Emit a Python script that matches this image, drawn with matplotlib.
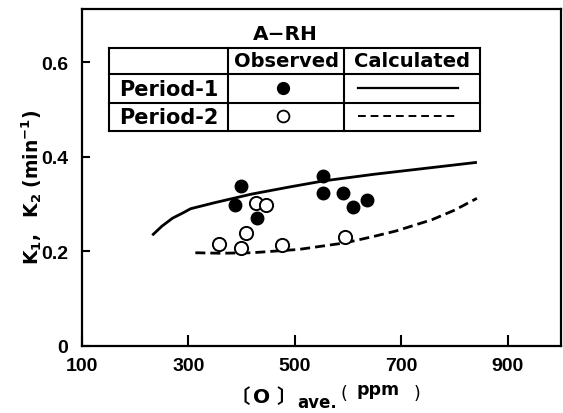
import matplotlib
matplotlib.use('Agg')
import matplotlib.pyplot as plt

# observed rate constants (period 1 = filled, period 2 = open)
obs1_x = [387, 398, 428, 553, 553, 591, 610, 635]
obs1_y = [0.297, 0.339, 0.270, 0.359, 0.324, 0.323, 0.294, 0.309]
obs2_x = [358, 398, 408, 427, 445, 475, 595]
obs2_y = [0.216, 0.207, 0.239, 0.302, 0.297, 0.214, 0.230]

# calculated curves
calc1_x = [232, 250, 270, 291, 304, 350, 419, 490, 555, 650, 750, 842]
calc1_y = [0.234, 0.253, 0.270, 0.282, 0.290, 0.303, 0.321, 0.336, 0.349, 0.363, 0.376, 0.388]
calc2_x = [313, 360, 419, 507, 595, 650, 690, 758, 800, 842]
calc2_y = [0.197, 0.196, 0.197, 0.204, 0.218, 0.232, 0.243, 0.267, 0.287, 0.312]

xticks = [100, 300, 500, 700, 900]
yticks = [0, 0.2, 0.4, 0.6]
ytick_labels = ['0', '0.2', '0.4', '0.6']

plt.rcParams['mathtext.fontset'] = 'dejavusans'
plt.rcParams['mathtext.default'] = 'bf'

W, H = 563, 414
fig = plt.figure(figsize=(W / 100, H / 100), dpi=100)
ax = fig.add_axes([82 / W, 1 - 347 / H, 479 / W, 337 / H])

ax.plot(calc1_x, calc1_y, color='black', lw=2.0, solid_capstyle='butt')
ax.plot(calc2_x, calc2_y, color='black', lw=2.0, dashes=(3.6, 1.8))
ax.plot(obs1_x, obs1_y, 'o', color='black', ms=9, zorder=3)
ax.plot(obs2_x, obs2_y, 'o', mfc='white', mec='black', mew=1.4, ms=9.5, zorder=3)

ax.set_xlim(100, 1000)
ax.set_ylim(0, 0.712)
ax.set_xticks(xticks)
ax.set_yticks(yticks)
ax.set_yticklabels(ytick_labels)
ax.tick_params(direction='in', width=1.5, labelsize=14, pad=8)
ax.tick_params(axis='x', length=8)
ax.tick_params(axis='y', length=6, pad=10)
for lab in ax.get_xticklabels() + ax.get_yticklabels():
    lab.set_fontfamily('Liberation Sans')
    lab.set_fontweight('bold')
for s in ax.spines.values():
    s.set_linewidth(1.6)

ax.set_ylabel(r'$K_1,\ \ K_2\ (min^{-1})$', fontsize=13.5)
ax.yaxis.set_label_coords(-0.08, 0.475)

# x label built from pieces (pixel positions from the top-left corner)
def px_text(x, y, s, **kw):
    fig.text(x / W, 1 - y / H, s, ha='left', va='baseline', **kw)

cjk = ['Noto Sans CJK JP', 'DejaVu Sans']
px_text(231, 403, '〔', fontsize=14, fontweight='bold', family=cjk)
px_text(253, 403, 'O', fontsize=14.5, fontweight='bold')
px_text(276, 403, '〕', fontsize=14, fontweight='bold', family=cjk)
px_text(297, 408, 'ave.', fontsize=12, fontweight='bold')
px_text(340, 399, '(', fontsize=12.5)
px_text(356, 395, 'ppm', fontsize=12.5, fontweight='bold')
px_text(414, 399, ')', fontsize=12.5)

# legend table
tx = [0.056, 0.305, 0.547, 0.830]
ty = [0.883, 0.807, 0.721, 0.637]
tr = ax.transAxes
for y in ty:
    ax.plot([tx[0], tx[3]], [y, y], color='black', lw=1.5, transform=tr, clip_on=False)
for x in tx:
    ax.plot([x, x], [ty[0], ty[3]], color='black', lw=1.5, transform=tr, clip_on=False)
ax.text(0.425, 0.926, 'A−RH', transform=tr, ha='center', va='center',
        fontsize=14.5, fontweight='bold')
ax.text(0.426, 0.846, 'Observed', transform=tr, ha='center', va='center',
        fontsize=14, fontweight='bold')
ax.text(0.688, 0.846, 'Calculated', transform=tr, ha='center', va='center',
        fontsize=14, fontweight='bold')
ax.text(0.181, 0.764, 'Period-1', transform=tr, ha='center', va='center',
        fontsize=15, fontweight='bold')
ax.text(0.181, 0.680, 'Period-2', transform=tr, ha='center', va='center',
        fontsize=15, fontweight='bold')
ax.plot([0.420], [0.766], 'o', color='black', ms=8.5, transform=tr)
ax.plot([0.420], [0.682], 'o', mfc='white', mec='black', mew=1.3, ms=8.5, transform=tr)
ax.plot([0.576, 0.785], [0.766, 0.766], color='black', lw=1.6, transform=tr)
ax.plot([0.576, 0.785], [0.682, 0.682], color='black', lw=1.4, dashes=(4, 2.5), transform=tr)

fig.savefig('out.png', dpi=100)
